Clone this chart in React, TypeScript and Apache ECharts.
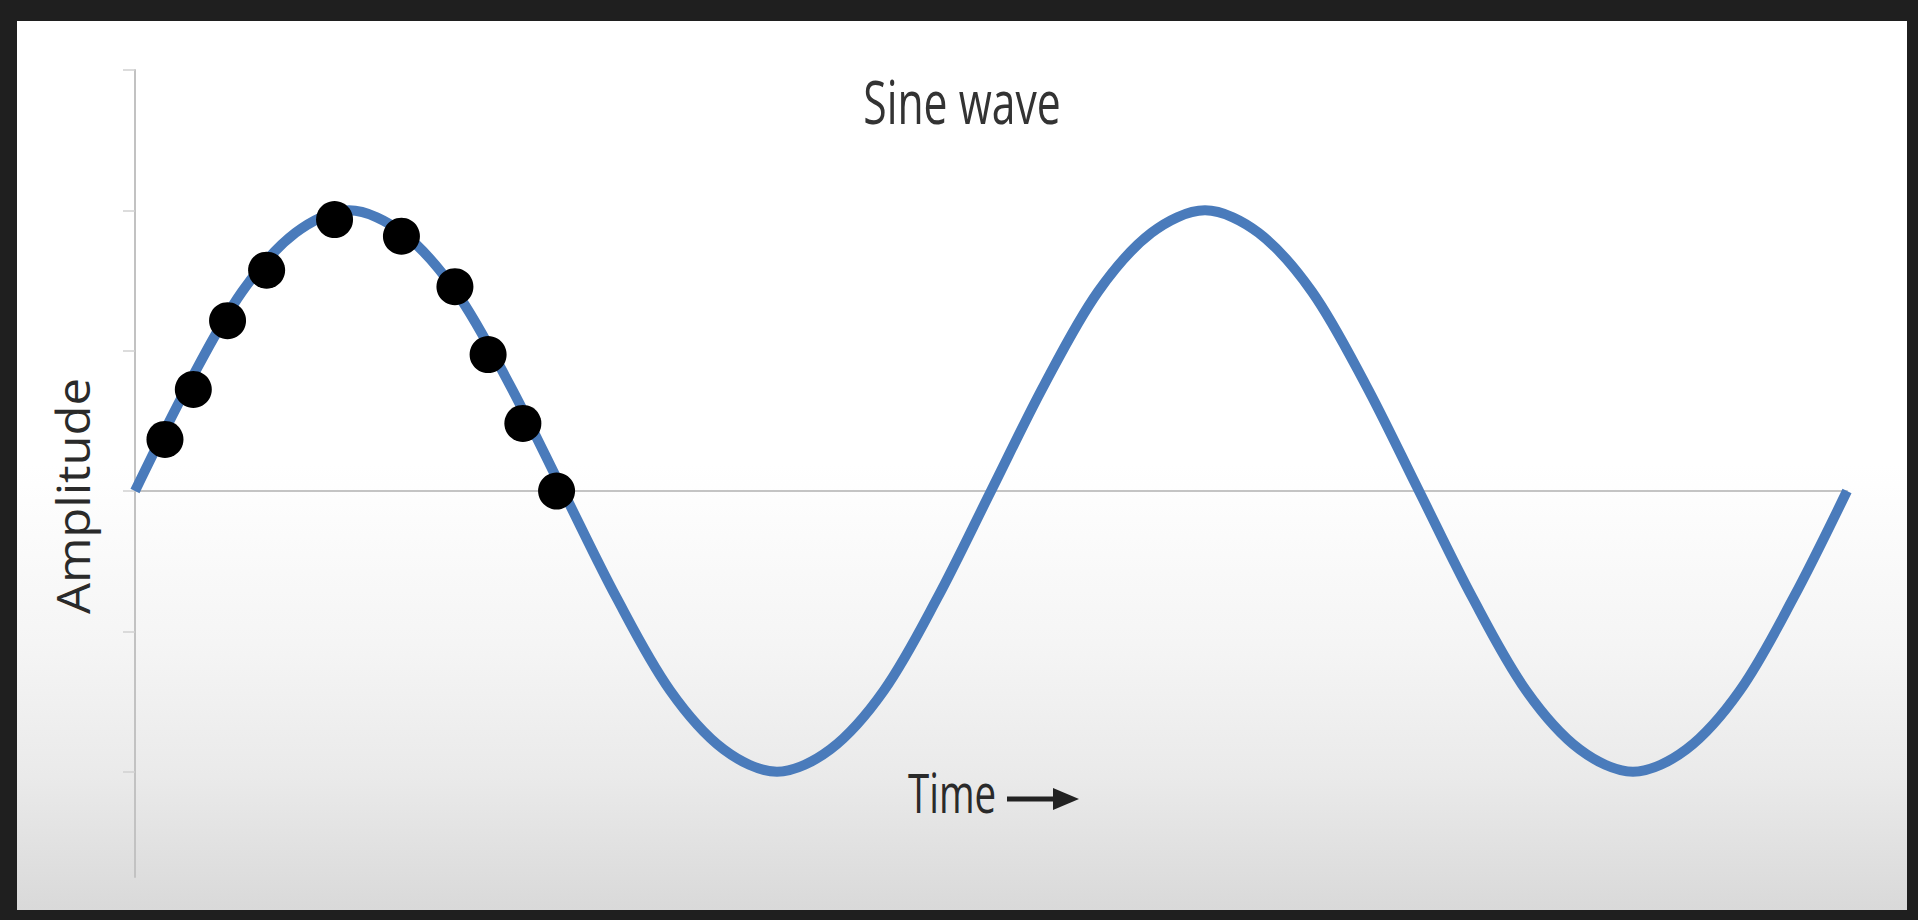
import React, { useEffect, useRef } from "react";
import * as echarts from "echarts";

// ---- Data ----
const chartTitle = "Sine wave";
const xAxisTitle = "Time";
const yAxisTitle = "Amplitude";

// time samples (one step = 1/16 of a period) and the curve's amplitude at each
const timeSamples = [
  0, 1, 2, 3, 4, 5, 6, 7, 8, 9, 10, 11, 12, 13, 14, 15, 16,
  17, 18, 19, 20, 21, 22, 23, 24, 25, 26, 27, 28, 29, 30, 31, 32,
];
const amplitudeValues = [
  0, 0.38, 0.71, 0.92, 1, 0.92, 0.71, 0.38, 0, -0.38, -0.71, -0.92, -1, -0.92, -0.71, -0.38, 0,
  0.38, 0.71, 0.92, 1, 0.92, 0.71, 0.38, 0, -0.38, -0.71, -0.92, -1, -0.92, -0.71, -0.38, 0,
];

// sampled points (black dots)
const dotTimes = [0.56, 1.09, 1.73, 2.46, 3.73, 4.98, 5.98, 6.6, 7.25, 7.88];
const dotValues = [0.184, 0.362, 0.607, 0.787, 0.967, 0.908, 0.728, 0.486, 0.241, 0];

const yTickValues = [-1, -0.5, 0, 0.5, 1, 1.5];
const yMin = -1.375;
const yMax = 1.5;
const xMin = 0;
const xMax = 32;

export default function App() {
  const ref = useRef<HTMLDivElement>(null);

  useEffect(() => {
    if (!ref.current) return;
    const chart = echarts.init(ref.current, undefined, { renderer: "svg" });

    const curve = timeSamples.map((t, i) => [t, amplitudeValues[i]]);
    const dots = dotTimes.map((t, i) => [t, dotValues[i]]);

    const font = "'Open Sans', 'Noto Sans', sans-serif";

    chart.setOption({
      animation: false,
      backgroundColor: "#1f1f1f",
      grid: { left: 135, right: 71, top: 70, bottom: 43, containLabel: false },
      xAxis: {
        type: "value",
        min: xMin,
        max: xMax,
        axisLine: { show: true, onZero: true, lineStyle: { color: "#c4c4c4", width: 2 } },
        axisTick: { show: false },
        axisLabel: { show: false },
        splitLine: { show: false },
      },
      yAxis: {
        type: "value",
        min: yMin,
        max: yMax,
        axisLine: { show: true, lineStyle: { color: "#c2c2c2", width: 2 } },
        axisTick: {
          show: true,
          inside: false,
          length: 12,
          customValues: yTickValues,
          lineStyle: { color: "#d0d0d0", width: 1.5 },
        },
        axisLabel: { show: false },
        splitLine: { show: false },
      },
      graphic: [
        {
          type: "rect",
          z: -10,
          silent: true,
          shape: { x: 17, y: 21, width: 1890, height: 889 },
          style: {
            fill: new echarts.graphic.LinearGradient(0, 0, 0, 1, [
              { offset: 0, color: "#ffffff" },
              { offset: 0.5, color: "#ffffff" },
              { offset: 0.7, color: "#f5f5f5" },
              { offset: 0.85, color: "#eaeaea" },
              { offset: 1, color: "#d9d9d9" },
            ]),
          },
        },
        {
          type: "text",
          z: 10,
          x: 962,
          y: 100,
          scaleX: 0.7,
          style: {
            text: chartTitle,
            font: `61px ${font}`,
            fill: "#333333",
            textAlign: "center",
            textVerticalAlign: "middle",
          },
        },
        {
          type: "text",
          z: 10,
          x: 908,
          y: 792,
          scaleX: 0.7,
          style: {
            text: xAxisTitle,
            font: `55px ${font}`,
            fill: "#2a2a2a",
            textAlign: "left",
            textVerticalAlign: "middle",
          },
        },
        {
          type: "rect",
          z: 10,
          shape: { x: 1007, y: 796.5, width: 50, height: 5 },
          style: { fill: "#222222" },
        },
        {
          type: "polygon",
          z: 10,
          shape: { points: [[1053, 788], [1079, 799], [1053, 810]] },
          style: { fill: "#222222" },
        },
        {
          type: "text",
          z: 10,
          x: 73,
          y: 496,
          rotation: Math.PI / 2,
          scaleX: 1.09,
          style: {
            text: yAxisTitle,
            font: `45px ${font}`,
            fill: "#2a2a2a",
            textAlign: "center",
            textVerticalAlign: "middle",
          },
        },
      ],
      series: [
        {
          type: "line",
          data: curve,
          smooth: 0.33,
          symbol: "none",
          clip: false,
          lineStyle: { color: "#4a7bbb", width: 10, cap: "butt" },
          z: 3,
        },
        {
          type: "scatter",
          data: dots,
          symbol: "circle",
          symbolSize: 37,
          itemStyle: { color: "#000000", opacity: 1 },
          z: 5,
        },
      ],
    });

    return () => chart.dispose();
  }, []);

  return (
    <div
      ref={ref}
      style={{ position: "fixed", left: 0, top: 0, width: 1918, height: 920 }}
    />
  );
}
